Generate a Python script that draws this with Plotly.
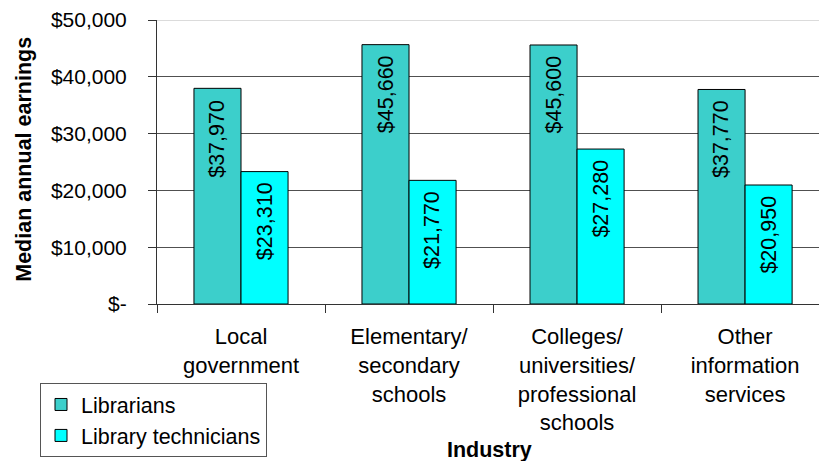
import plotly.graph_objects as go

# Median annual earnings by industry
industries = [
    "Local<br>government",
    "Elementary/<br>secondary<br>schools",
    "Colleges/<br>universities/<br>professional<br>schools",
    "Other<br>information<br>services",
]
librarians = [37970, 45660, 45600, 37770]
technicians = [23310, 21770, 27280, 20950]

y_tickvals = [0, 10000, 20000, 30000, 40000, 50000]
y_ticktext = ["$-", "$10,000", "$20,000", "$30,000", "$40,000", "$50,000"]

FONT = "Liberation Sans, Arial, sans-serif"
TEAL = "#3CCFCB"
CYAN = "#00FFFF"

fig = go.Figure()
fig.add_bar(name="Librarians", x=industries, y=librarians,
            marker=dict(color=TEAL, line=dict(color="black", width=1)))
fig.add_bar(name="Library technicians", x=industries, y=technicians,
            marker=dict(color=CYAN, line=dict(color="black", width=1)))

# value labels, rotated, just inside the top of each bar
half = 0.14
for i, (a, b) in enumerate(zip(librarians, technicians)):
    for xv, val in ((i - half, a), (i + half, b)):
        fig.add_annotation(x=xv, y=val, xref="x", yref="y",
                           text=f"${val:,}", textangle=-90, showarrow=False,
                           yanchor="top", xanchor="center", yshift=-9,
                           font=dict(family=FONT, size=21.5, color="black"))

# axis titles
fig.add_annotation(xref="paper", yref="paper", x=-0.2, y=0.51,
                   text="<b>Median annual earnings</b>", textangle=-90,
                   showarrow=False, xanchor="center", yanchor="middle",
                   font=dict(family=FONT, size=21.5, color="black"))
fig.add_annotation(xref="paper", yref="paper", x=0.503, y=-0.514,
                   text="<b>Industry</b>", showarrow=False,
                   xanchor="center", yanchor="middle",
                   font=dict(family=FONT, size=21.5, color="black"))

# lighter frame line along the top of the plot area
fig.add_shape(type="line", xref="paper", yref="y", x0=0, x1=1,
              y0=y_tickvals[-1], y1=y_tickvals[-1],
              line=dict(color="#B8B8B8", width=1), layer="above")

fig.update_layout(
    width=819, height=461,
    margin=dict(l=157, r=0, t=20, b=157, autoexpand=False),
    paper_bgcolor="white", plot_bgcolor="white",
    barmode="group", bargap=0.44, bargroupgap=0,
    font=dict(family=FONT, size=21.5, color="black"),
    showlegend=True,
    legend=dict(xref="container", yref="container",
                x=40 / 819, y=1 - 383 / 461, xanchor="left", yanchor="top",
                bgcolor="white", bordercolor="#555555", borderwidth=1,
                font=dict(family=FONT, size=21.5, color="black"),
                itemwidth=30, tracegroupgap=0),
)
fig.update_xaxes(
    type="category", range=[-0.5, 3.44], automargin=False, tickangle=0,
    tickson="boundaries", ticks="outside", ticklen=8, tickcolor="#333333",
    showline=True, linecolor="#333333", linewidth=1,
    showgrid=False, ticklabelstandoff=13,
    tickfont=dict(family=FONT, size=22, color="black"),
)
fig.update_yaxes(
    range=[0, 50000], tickvals=y_tickvals, ticktext=y_ticktext, automargin=False,
    ticks="outside", ticklen=8, tickcolor="#333333",
    showline=True, linecolor="#333333", linewidth=1,
    showgrid=True, gridcolor="#505050", gridwidth=1,
    zeroline=False, ticklabelstandoff=17,
    tickfont=dict(family=FONT, size=21, color="black"),
)

fig.write_html("out.html")
